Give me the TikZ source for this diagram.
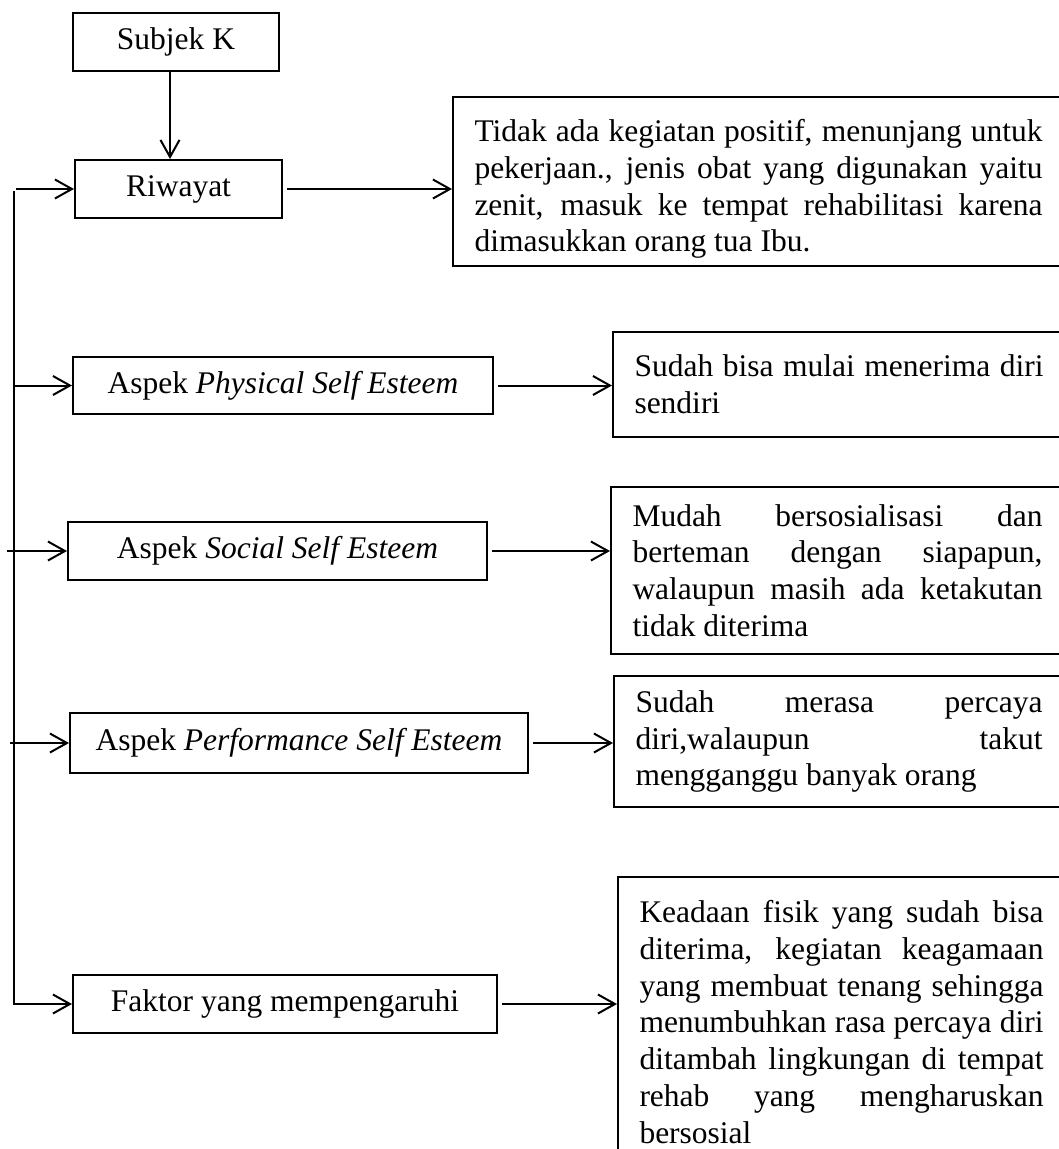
\documentclass[tikz,border=0pt]{standalone}
\usepackage{fontspec}
\setmainfont{Liberation Serif}
\usetikzlibrary{arrows.meta}
\usetikzlibrary{calc}

% one justified line inside a text box
\newcommand{\jline}[1]{{\spaceskip=0pt\xspaceskip=0pt\makebox[\hsize][s]{#1}}}

\tikzset{
  kotak/.style={draw, line width=2pt, inner sep=0pt, font=\fontsize{31.5}{36.8}\selectfont},
  hasil/.style={kotak, anchor=west, align=justify, inner xsep=21.5pt},
  panah/.style={line width=2pt, -{Straight Barb[length=17pt,width=19pt]}},
}

\begin{document}
\begin{tikzpicture}[x=1pt,y=-1pt]
  \useasboundingbox (0,0) rectangle (1059,1149);
  \clip (0,0) rectangle (1059,1149);

  % left column
  \node[kotak, minimum width=206pt, minimum height=58pt] (subjek) at (176,42) {Subjek K};
  \node[kotak, minimum width=207pt, minimum height=58pt] (riwayat) at (178.5,189) {Riwayat};
  \node[kotak, minimum width=420pt, minimum height=57pt] (fisik) at (283,385.5) {Aspek \textit{Physical Self Esteem}};
  \node[kotak, minimum width=419pt, minimum height=58pt] (sosial) at (277.5,551) {Aspek \textit{Social Self Esteem}};
  \node[kotak, minimum width=458pt, minimum height=60pt] (kinerja) at (299,743) {Aspek \textit{Performance Self Esteem}};
  \node[kotak, minimum width=424pt, minimum height=58pt] (faktor) at (285,1004) {Faktor yang mempengaruhi};

  % right column
  \node[hasil, text width=568pt, minimum height=169pt] (ket1) at (452,181.5)
    {\rule{0pt}{37pt}\jline{Tidak ada kegiatan positif, menunjang untuk}\\
     \jline{pekerjaan., jenis obat yang digunakan yaitu}\\
     \jline{zenit, masuk ke tempat rehabilitasi karena}\\
     dimasukkan orang tua Ibu.};
  \node[hasil, text width=409pt, minimum height=105pt] (ket2) at (612,384.5)
    {\jline{Sudah bisa mulai menerima diri}\\
     sendiri};
  \node[hasil, text width=410pt, minimum height=167pt] (ket3) at (610,570.5)
    {\jline{Mudah bersosialisasi dan}\\
     \jline{berteman dengan siapapun,}\\
     \jline{walaupun masih ada ketakutan}\\
     tidak diterima};
  \node[hasil, text width=407pt, minimum height=131pt] (ket4) at (613,741.5)
    {\jline{Sudah merasa percaya}\\
     \jline{diri,walaupun takut}\\
     mengganggu banyak orang};
  \node[hasil, text width=404pt, minimum height=290pt] (ket5) at (617,1022)
    {\jline{Keadaan fisik yang sudah bisa}\\
     \jline{diterima, kegiatan keagamaan}\\
     \jline{yang membuat tenang sehingga}\\
     \jline{menumbuhkan rasa percaya diri}\\
     \jline{ditambah lingkungan di tempat}\\
     \jline{rehab yang mengharuskan}\\
     bersosial};

  % connectors
  \draw[panah] ([xshift=-6pt]subjek.south) -- ([xshift=-6pt]subjek.south |- riwayat.north);
  \draw[panah] ([xshift=4pt]riwayat.east) -- (riwayat.east -| ket1.west);
  \draw[panah] ([xshift=4pt]fisik.east) -- (fisik.east -| ket2.west);
  \draw[panah] ([xshift=4pt]sosial.east) -- (sosial.east -| ket3.west);
  \draw[panah] ([xshift=4pt]kinerja.east) -- (kinerja.east -| ket4.west);
  \draw[panah] ([xshift=4pt]faktor.east) -- (faktor.east -| ket5.west);

  % left spine
  \coordinate (atas) at (14,191);
  \coordinate (bawah) at (14,1004);
  \draw[panah] (atas) -- (bawah) -- (faktor.west);
  \draw[panah] ([xshift=2pt]atas |- riwayat.west) -- (riwayat.west);
  \draw[panah] (atas |- fisik.west) -- (fisik.west);
  \draw[panah] ([xshift=-7pt]atas |- sosial.west) -- (sosial.west);
  \draw[panah] ([xshift=-4pt]atas |- kinerja.west) -- (kinerja.west);
\end{tikzpicture}
\end{document}
